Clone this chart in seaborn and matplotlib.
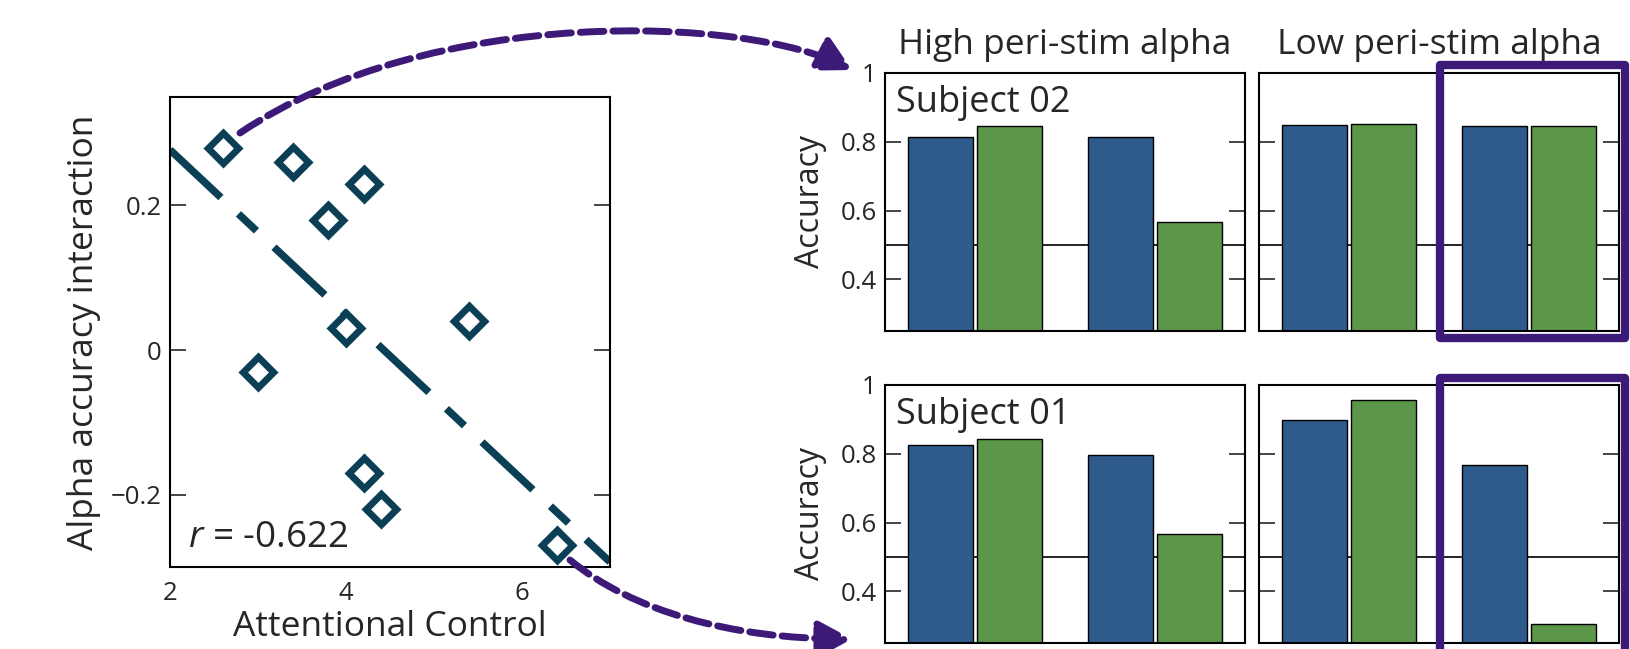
import matplotlib
matplotlib.use('Agg')
from matplotlib import pyplot as plt
from matplotlib.patches import FancyArrowPatch, Rectangle
from matplotlib.path import Path
import pandas as pd
import seaborn as sns

# left panel: alpha accuracy interaction vs attentional control
attentional_control = [2.6, 3.4, 4.2, 3.8, 4.0, 5.4, 3.0, 4.2, 4.4, 6.4]
alpha_interaction = [0.28, 0.26, 0.23, 0.18, 0.03, 0.04, -0.03, -0.17, -0.22, -0.27]
r_text = '$r$ = -0.622'
scatter_yticks = [-0.2, 0, 0.2]
scatter_yticklabels = ['\u22120.2', '0', '0.2']
scatter_xticks = [2, 4, 6]

# right panels: accuracy bars
conditions = ['Condition 1', 'Condition 2']
series = ['Series A', 'Series B']
sub02_high = {'Series A': [0.815, 0.814], 'Series B': [0.847, 0.567]}
sub02_low = {'Series A': [0.849, 0.845], 'Series B': [0.851, 0.847]}
sub01_high = {'Series A': [0.825, 0.797], 'Series B': [0.842, 0.568]}
sub01_low = {'Series A': [0.898, 0.766], 'Series B': [0.956, 0.304]}
bar_yticks = [0.4, 0.6, 0.8, 1.0]
bar_yticklabels = ['0.4', '0.6', '0.8', '1']
col_titles = ['High peri-stim alpha', 'Low peri-stim alpha']
row_labels = ['Subject 02', 'Subject 01']

teal = '#0a3f55'
purple = '#3d1a78'
palette = ['#2e5a8c', '#5c9649']

sns.set_style('white')
plt.rcParams['font.family'] = ['Open Sans', 'DejaVu Sans']
plt.rcParams['mathtext.fontset'] = 'custom'
plt.rcParams['mathtext.it'] = 'Open Sans:italic'
plt.rcParams['mathtext.rm'] = 'Open Sans'
plt.rcParams['axes.edgecolor'] = 'black'
plt.rcParams['axes.linewidth'] = 1.5

W, H = 1631, 649
fig = plt.figure(figsize=(W / 100, H / 100), dpi=100)


def box(left, top, right, bottom):
    return [left / W, 1 - bottom / H, (right - left) / W, (bottom - top) / H]


def fig_pt(x, y):
    return (x / W, 1 - y / H)


# scatter + regression line
ax = fig.add_axes(box(170, 97, 610, 567))
ax.set_xlim(2, 7)
ax.set_ylim(-0.3, 0.35)
sns.regplot(x=attentional_control, y=alpha_interaction, ax=ax, scatter=False,
            ci=None, truncate=False,
            line_kws=dict(color=teal, lw=5.4, dashes=(9.3, 3.2, 3.3, 3.2),
                          dash_capstyle='butt'))
sns.scatterplot(x=attentional_control, y=alpha_interaction, ax=ax, marker='D',
                s=240, facecolor='white', edgecolor=teal, linewidth=4.9,
                joinstyle='miter', zorder=3)
ax.set_xlim(2, 7)
ax.set_ylim(-0.3, 0.35)
ax.set_xticks(scatter_xticks)
ax.set_yticks(scatter_yticks, scatter_yticklabels)
ax.tick_params(axis='y', direction='in', length=11.5, width=1.2, left=True,
               right=True, labelsize=18.5, pad=6)
ax.tick_params(axis='x', direction='in', length=0, labelsize=18.5, pad=10)
ax.set_xlabel('Attentional Control', fontsize=25.5, labelpad=3)
ax.set_ylabel('Alpha accuracy interaction', fontsize=25.5, labelpad=7)
ax.text(2.2, -0.272, r_text, fontsize=26.5, ha='left', va='baseline')

# bar panels
panels = [[sub02_high, sub02_low], [sub01_high, sub01_low]]
rows_px = [(73, 331), (385, 643)]
cols_px = [(885, 1245), (1259, 1619)]
for i, row in enumerate(panels):
    for j, vals in enumerate(row):
        bx = fig.add_axes(box(cols_px[j][0], rows_px[i][0], cols_px[j][1], rows_px[i][1]))
        df = pd.DataFrame({
            'condition': conditions * 2,
            'series': [s for s in series for _ in conditions],
            'accuracy': vals['Series A'] + vals['Series B'],
        })
        bx.axhline(0.5, color='black', lw=1.2, zorder=0)
        sns.barplot(data=df, x='condition', y='accuracy', hue='series',
                    palette=palette, saturation=1, width=0.76, gap=0.05,
                    edgecolor='black', linewidth=1, legend=False, ax=bx)
        bx.set_xlim(-0.5, 1.5)
        bx.set_ylim(0.25, 1)
        bx.set_yticks(bar_yticks, bar_yticklabels)
        bx.tick_params(axis='y', direction='in', length=11.5, width=1.2,
                       left=True, right=True, labelsize=18.5, pad=6,
                       labelleft=(j == 0))
        bx.tick_params(axis='x', bottom=False, labelbottom=False)
        bx.set_xlabel('')
        if j == 0:
            bx.set_ylabel('Accuracy', fontsize=23, labelpad=10)
            bx.text(0.03, 0.848, row_labels[i], transform=bx.transAxes,
                    fontsize=26, ha='left', va='baseline')
        else:
            bx.set_ylabel('')
        if i == 0:
            bx.set_title(col_titles[j], fontsize=25.5, pad=14)

# highlight boxes
for top, bottom in [(65, 338), (378, 720)]:
    fig.add_artist(Rectangle(fig_pt(1440, bottom), (1625 - 1440) / W,
                             (bottom - top) / H, transform=fig.transFigure,
                             fill=False, ec=purple, lw=6, joinstyle='round',
                             zorder=10))

# curved dashed arrows
arrows = [
    [(240, 133), (431, 4), (748, 16), (852, 70)],
    [(570, 560), (632, 611), (732, 639), (852, 639)],
]
for pts in arrows:
    path = Path([fig_pt(*p) for p in pts],
                [Path.MOVETO, Path.CURVE4, Path.CURVE4, Path.CURVE4])
    fig.add_artist(FancyArrowPatch(path=path,
                                   arrowstyle='-|>,head_length=0.5,head_width=0.27',
                                   mutation_scale=40, lw=5, linestyle=(0, (3.4, 1.3)),
                                   color=purple, transform=fig.transFigure,
                                   zorder=11))

fig.savefig('out.png', dpi=100)
